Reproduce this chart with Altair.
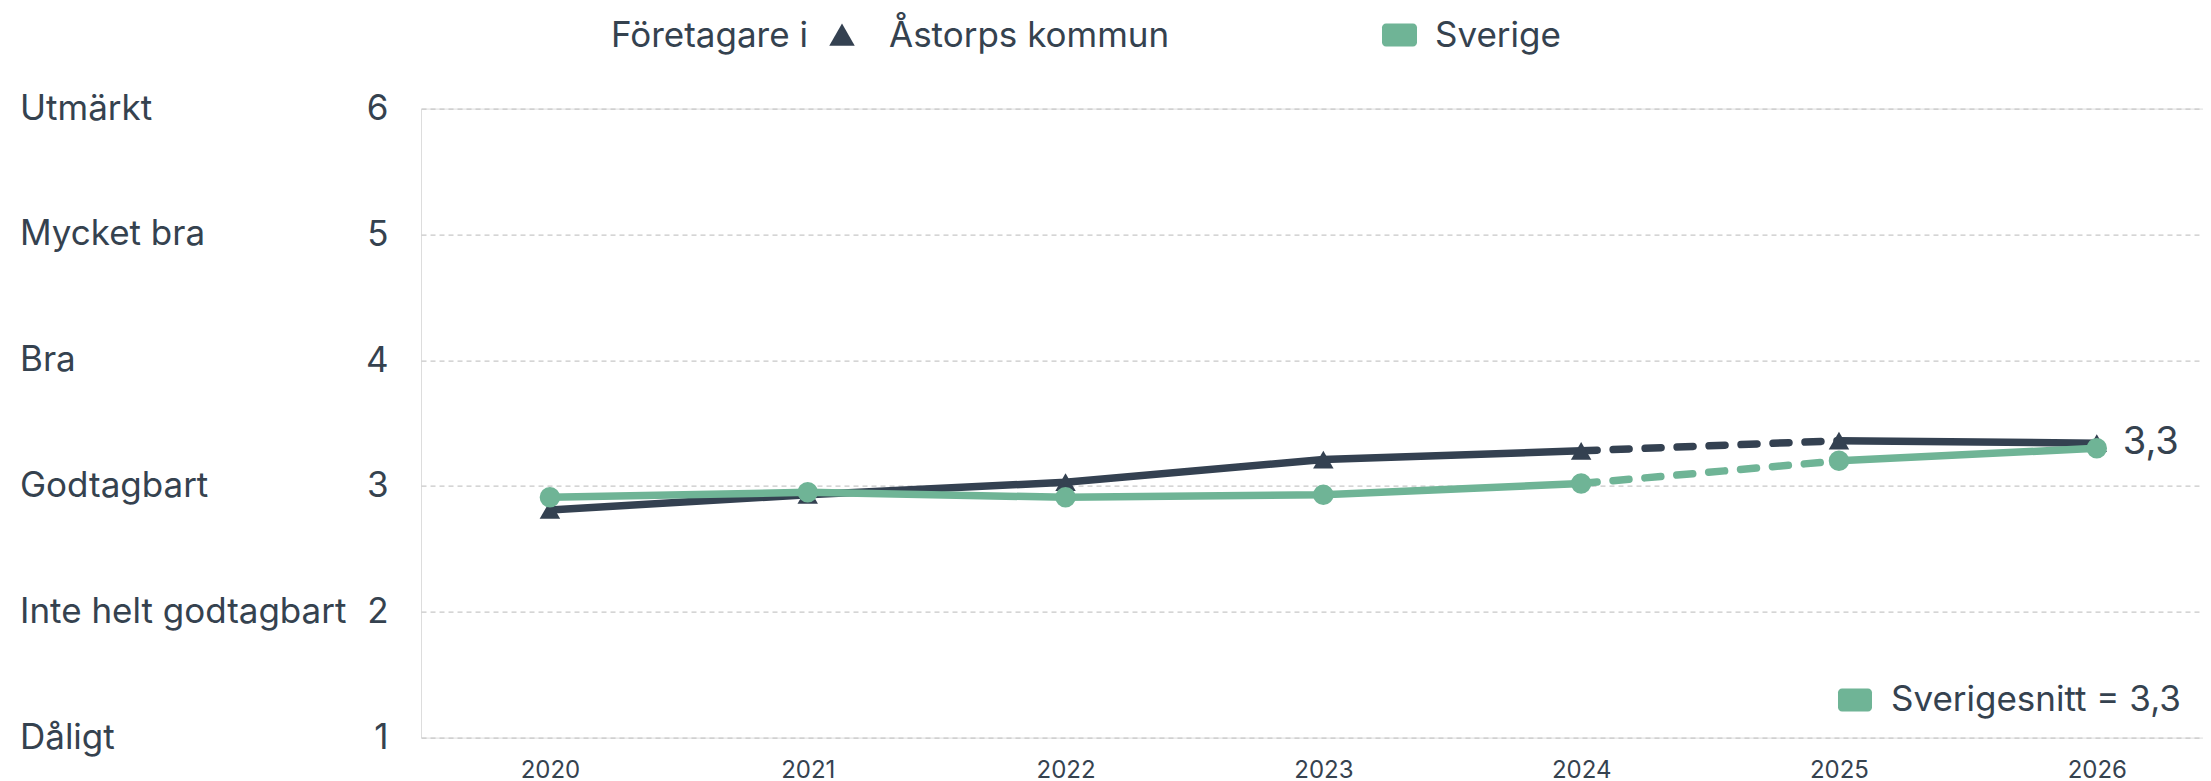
import altair as alt
import pandas as pd

# ---- data ----
years = [2020, 2021, 2022, 2023, 2024, 2025, 2026]
astorp = [2.81, 2.93, 3.03, 3.21, 3.28, 3.36, 3.34]
sverige = [2.91, 2.95, 2.91, 2.93, 3.02, 3.20, 3.30]
series_names = ["Åstorps kommun", "Sverige"]
scale_values = [1, 2, 3, 4, 5, 6]
scale_names = ["Dåligt", "Inte helt godtagbart", "Godtagbart", "Bra", "Mycket bra", "Utmärkt"]
legend_title = "Företagare i"
avg_label = "Sverigesnitt = 3,3"
end_label = "3,3"
# segments: (id, style, start year, end year)
segments = [("a", "solid", 2020, 2024), ("b", "dashed", 2024, 2025), ("c", "solid", 2025, 2026)]

DARK = "#344151"
GREEN = "#6fb496"
TEXT = "#35424f"
FONT = "Inter"

rows = []
for name, vals in zip(series_names, [astorp, sverige]):
    for seg, style, y0, y1 in segments:
        for yr, v in zip(years, vals):
            if y0 <= yr <= y1:
                rows.append({"series": name, "seg": seg, "style": style, "year": yr, "value": v})
lines_df = pd.DataFrame(rows)
pts_df = pd.DataFrame(
    [{"series": n, "year": yr, "value": v} for n, vals in zip(series_names, [astorp, sverige]) for yr, v in zip(years, vals)]
)
names_df = pd.DataFrame({"value": scale_values, "name": scale_names})
end_df = pd.DataFrame({"year": [years[-1]], "value": [astorp[-1]], "label": [end_label]})
one = pd.DataFrame({"k": [0]})

x_enc = alt.X(
    "year:Q",
    scale=alt.Scale(domain=[2019.5, 2026.412], nice=False, zero=False),
    axis=alt.Axis(
        values=years, format="d", title=None, grid=False, domain=False, ticks=False, tickSize=0,
        labelFontSize=24, labelPadding=21, labelColor=TEXT, labelFont=FONT,
    ),
)
y_enc = alt.Y(
    "value:Q",
    scale=alt.Scale(domain=[1, 6], nice=False, zero=False),
    axis=alt.Axis(
        values=scale_values, format="d", title=None, grid=True, gridDash=[5, 4], gridColor="#c8c8c8",
        gridWidth=1.2, domain=False, ticks=False, tickSize=0, labelFontSize=35, labelPadding=33,
        labelColor=TEXT, labelFont=FONT,
    ),
)
color_scale = alt.Scale(domain=series_names, range=[DARK, GREEN])

base = alt.Chart(lines_df)
layers = []
for name in series_names:
    sub = base.transform_filter(alt.datum.series == name)
    solid = sub.transform_filter(alt.datum.style == "solid").mark_line(strokeWidth=7.5).encode(
        x=x_enc, y=y_enc, color=alt.Color("series:N", scale=color_scale, legend=None), detail="seg:N"
    )
    dashed = sub.transform_filter(alt.datum.style == "dashed").mark_line(
        strokeWidth=7.5, strokeDash=[16, 16], strokeCap="round"
    ).encode(x=x_enc, y=y_enc, color=alt.Color("series:N", scale=color_scale, legend=None), detail="seg:N")
    shape = "triangle-up" if name == series_names[0] else "circle"
    pts = alt.Chart(pts_df).transform_filter(alt.datum.series == name).mark_point(
        shape=shape, filled=True, opacity=1, size=420
    ).encode(x=x_enc, y=y_enc, color=alt.Color("series:N", scale=color_scale, legend=None))
    layers += [solid, dashed, pts]

end_text = alt.Chart(end_df).mark_text(
    align="left", baseline="middle", dx=26, fontSize=38, font=FONT, color=TEXT
).encode(x=x_enc, y=y_enc, text="label:N")

names_text = alt.Chart(names_df).mark_text(
    align="left", baseline="middle", fontSize=35, font=FONT, color=TEXT
).encode(x=alt.value(-401), y=y_enc, text="name:N")

# top legend
lg_title = alt.Chart(one).mark_text(text=legend_title, align="left", baseline="middle", fontSize=35, font=FONT, color=TEXT).encode(
    x=alt.value(190), y=alt.value(-73))
lg_tri = alt.Chart(one).mark_point(shape="triangle-up", filled=True, opacity=1, size=650, color=DARK).encode(
    x=alt.value(421), y=alt.value(-74))
lg_a = alt.Chart(one).mark_text(text=series_names[0], align="left", baseline="middle", fontSize=35, font=FONT, color=TEXT).encode(
    x=alt.value(468), y=alt.value(-73))
lg_sq = alt.Chart(one).mark_rect(color=GREEN, cornerRadius=4).encode(
    x=alt.value(961), x2=alt.value(996), y=alt.value(-85), y2=alt.value(-62))
lg_s = alt.Chart(one).mark_text(text=series_names[1], align="left", baseline="middle", fontSize=35, font=FONT, color=TEXT).encode(
    x=alt.value(1014), y=alt.value(-73))
# bottom-right legend
avg_sq = alt.Chart(one).mark_rect(color=GREEN, cornerRadius=4).encode(
    x=alt.value(1417), x2=alt.value(1451), y=alt.value(580), y2=alt.value(603))
avg_t = alt.Chart(one).mark_text(text=avg_label, align="left", baseline="middle", fontSize=35, font=FONT, color=TEXT).encode(
    x=alt.value(1470), y=alt.value(591))

chart = alt.layer(
    *layers, end_text, names_text, lg_title, lg_tri, lg_a, lg_sq, lg_s, avg_sq, avg_t
).properties(
    width=1782, height=629,
    autosize=alt.AutoSizeParams(type="none"),
    padding={"left": 413, "top": 100.6, "right": 0, "bottom": 52},
).configure_view(stroke=None).configure(background="white")

chart.save("out.html", embed_options={"renderer": "svg", "actions": False})
